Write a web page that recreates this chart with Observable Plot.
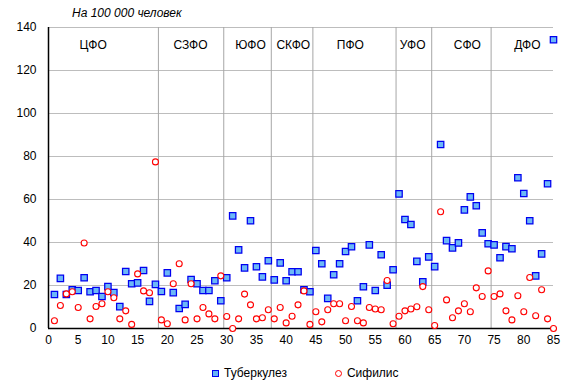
<!DOCTYPE html>
<html><head><meta charset="utf-8">
<script src="https://cdn.jsdelivr.net/npm/d3@7"></script>
<script src="https://cdn.jsdelivr.net/npm/@observablehq/plot@0.6"></script>
<style>
body{margin:0;background:#fff;font-family:"Liberation Sans",Arial,sans-serif;}
#wrap{position:relative;width:575px;height:392px;overflow:hidden;}
#title{position:absolute;left:72px;top:6px;font-size:12px;font-style:italic;color:#000;}
#chart{position:absolute;left:0;top:20px;}
#legend{position:absolute;left:212px;top:366px;font-size:12px;display:flex;align-items:center;color:#000;}
.sq{display:inline-block;width:5px;height:5px;background:#66b5f5;border:1.2px solid #0000ee;margin-right:5px;}
.ci{display:inline-block;width:5px;height:5px;border-radius:50%;background:#fff;border:1.2px solid #ff0000;margin-right:5px;margin-left:48px;}
</style></head>
<body>
<div id="wrap">
<div id="title">На 100 000 человек</div>
<div id="chart"></div>
<div id="legend"><span class="sq"></span><span id="l1"></span><span class="ci"></span><span id="l2"></span></div>
</div>
<script>
const seriesNames = ["Туберкулез", "Сифилис"];
const tuberculosis = [15.8,23.3,15.8,18.0,17.7,23.6,17.1,17.7,14.9,19.5,16.7,10.2,26.5,20.8,21.2,27.0,12.6,20.5,17.2,25.9,16.7,9.3,11.2,22.8,20.8,17.7,17.7,22.2,12.9,23.6,52.4,36.6,28.2,50.1,28.7,24.0,31.5,22.6,30.5,22.2,26.4,26.4,18.0,17.1,36.3,30.1,14.0,25.0,30.1,35.8,38.0,12.9,19.4,38.9,17.7,34.3,20.2,27.3,62.6,50.7,48.4,31.2,21.7,33.3,28.8,85.6,40.9,37.5,39.8,55.2,61.2,57.1,44.5,39.4,38.9,32.9,38.1,37.1,70.1,62.8,50.1,24.5,34.7,67.3,134.3];
const syphilis = [3.6,10.7,16.1,17.1,9.8,39.8,4.5,10.2,11.5,17.1,14.3,4.5,8.2,1.9,25.4,17.5,16.6,77.5,4.0,2.2,20.8,30.1,4.0,20.8,4.5,9.8,6.8,4.5,24.5,5.6,0,4.5,16.0,11.0,4.5,5.0,8.7,4.5,9.8,2.6,5.7,11.0,17.5,1.9,7.8,3.1,8.7,11.5,11.5,3.6,10.2,3.6,2.6,9.8,9.1,8.7,22.3,2.2,5.7,8.2,9.1,10.1,19.5,8.7,1.4,54.3,13.3,5.0,8.2,11.5,7.8,18.9,14.9,26.8,14.9,16.1,8.2,4.0,15.2,7.8,23.7,5.9,18.0,4.5,0];
const districts = ["ЦФО","СЗФО","ЮФО","СКФО","ПФО","УФО","СФО","ДФО"];
const districtLabelX = [7.5,23.9,34,41.2,50.8,61.3,70.5,80.6];
const districtLabelY = 132;
const districtBounds = [18.5,29.5,37.5,44.5,58.5,64.5,74.5];
const xTicks = [0,5,10,15,20,25,30,35,40,45,50,55,60,65,70,75,80,85];
const yTicks = [0,20,40,60,80,100,120,140];

document.getElementById("l1").textContent = seriesNames[0];
document.getElementById("l2").textContent = seriesNames[1];

const tbData = tuberculosis.map((v,i)=>({x:i+1, y:v}));
const syData = syphilis.map((v,i)=>({x:i+1, y:v}));
const labels = districts.map((d,i)=>({name:d, x:districtLabelX[i], y:districtLabelY}));

const chart = Plot.plot({
  width:575, height:335,
  marginLeft:48, marginRight:22, marginTop:7, marginBottom:27,
  style:{fontFamily:"'Liberation Sans', Arial, sans-serif", fontSize:"12px", color:"#000", background:"#fff", overflow:"visible"},
  x:{domain:[0,85], ticks:xTicks, tickSize:0, tickPadding:7, label:null},
  y:{domain:[0,140], ticks:yTicks, tickSize:0, tickPadding:12, label:null},
  marks:[
    Plot.ruleY(yTicks.filter(d=>d>0), {stroke:"#bdbdbd", strokeOpacity:1}),
    Plot.ruleX(districtBounds, {y1:0, y2:140, stroke:"#a6a6a6", strokeOpacity:1}),
    Plot.ruleX([0], {stroke:"#000", strokeWidth:1.5}),
    Plot.ruleY([0], {stroke:"#000", strokeWidth:1.5}),
    Plot.text(labels, {x:"x", y:"y", text:"name", fontSize:12, fill:"#000"}),
    Plot.dot(tbData, {x:"x", y:"y", symbol:"square", r:3.6, fill:"#6cb8f7", stroke:"#0000f0", strokeWidth:1.25}),
    Plot.dot(syData, {x:"x", y:"y", r:3, fill:"#fff", stroke:"#ff0000", strokeWidth:1.1})
  ]
});
document.getElementById("chart").appendChild(chart);
</script>
</body></html>
